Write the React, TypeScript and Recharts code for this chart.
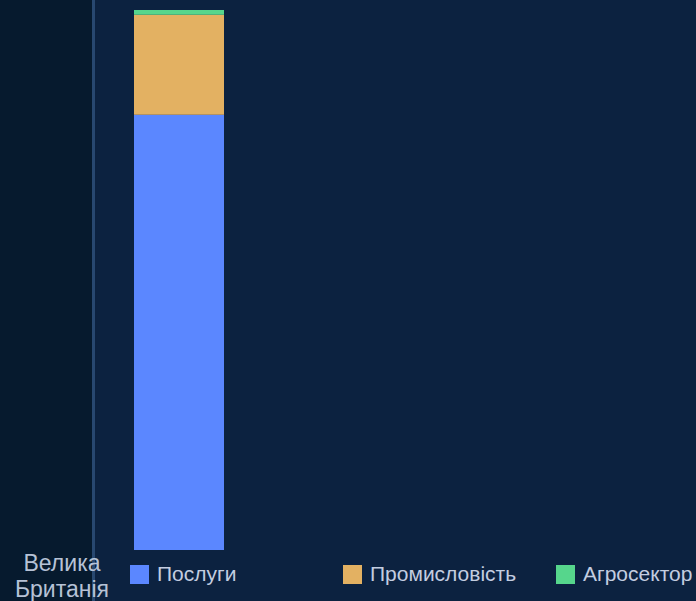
import React from "react";
import { BarChart, Bar, XAxis, YAxis, Legend } from "recharts";

const categories = ["Велика Британія"];
const services = [80.6];
const industry = [18.5];
const agro = [0.9];
const seriesNames = ["Послуги", "Промисловість", "Агросектор"];
const seriesColors = ["#5b87ff", "#e3b162", "#56d68c"];

const data = categories.map((c, i) => ({
  name: c,
  services: services[i],
  industry: industry[i],
  agro: agro[i],
}));

const FONT = '"Liberation Sans", Arial, sans-serif';

const CategoryTick = (props: any) => {
  const { x, y, payload } = props;
  const words = String(payload.value).split(" ");
  const cx = x - 117;
  return (
    <g>
      <text x={cx} y={y} textAnchor="middle" fill="#b6c2d6" fontSize={23} fontFamily={FONT}>
        {words.map((w, i) => (
          <tspan key={i} x={cx} dy={i === 0 ? 21 : 26}>
            {w}
          </tspan>
        ))}
      </text>
    </g>
  );
};

const LegendContent = (props: any) => {
  const payload = [...(props.payload || [])].sort(
    (a: any, b: any) => seriesNames.indexOf(a.value) - seriesNames.indexOf(b.value)
  );
  return (
    <div style={{ display: "flex", fontFamily: FONT }}>
      {payload.map((p: any, i: number) => (
        <div key={i} style={{ width: 213, display: "flex", alignItems: "center", flexShrink: 0 }}>
          <span
            style={{
              display: "inline-block",
              width: 19,
              height: 19,
              background: p.color,
              marginRight: 8,
              flexShrink: 0,
            }}
          />
          <span style={{ fontSize: 21, lineHeight: "20px", color: "#c3cde0", whiteSpace: "nowrap" }}>
            {p.value}
          </span>
        </div>
      ))}
    </div>
  );
};

export default function App() {
  return (
    <div
      style={{
        position: "absolute",
        left: 0,
        top: 0,
        width: 696,
        height: 601,
        overflow: "hidden",
        background: "#0c2240",
      }}
    >
      <div style={{ position: "absolute", left: 0, top: 0, width: 92, height: 601, background: "#061a2e" }} />
      <div style={{ position: "absolute", left: 92, top: 0, width: 3, height: 601, background: "#284870" }} />
      <div style={{ position: "absolute", left: 0, top: 0 }}>
        <BarChart
          width={696}
          height={601}
          data={data}
          margin={{ top: 10, right: 431, left: 93, bottom: 0 }}
        >
          <XAxis
            dataKey="name"
            axisLine={false}
            tickLine={false}
            tickSize={0}
            tickMargin={0}
            height={51}
            interval={0}
            tick={<CategoryTick />}
          />
          <YAxis hide domain={[0, 100]} />
          <Legend
            verticalAlign="middle"
            align="center"
            layout="horizontal"
            content={<LegendContent />}
            wrapperStyle={{ top: 564, left: 130, width: 700, height: 20 }}
          />
          <Bar dataKey="services" name={seriesNames[0]} stackId="a" fill={seriesColors[0]} barSize={90} isAnimationActive={false} />
          <Bar dataKey="industry" name={seriesNames[1]} stackId="a" fill={seriesColors[1]} barSize={90} isAnimationActive={false} />
          <Bar dataKey="agro" name={seriesNames[2]} stackId="a" fill={seriesColors[2]} barSize={90} isAnimationActive={false} />
        </BarChart>
      </div>
    </div>
  );
}
